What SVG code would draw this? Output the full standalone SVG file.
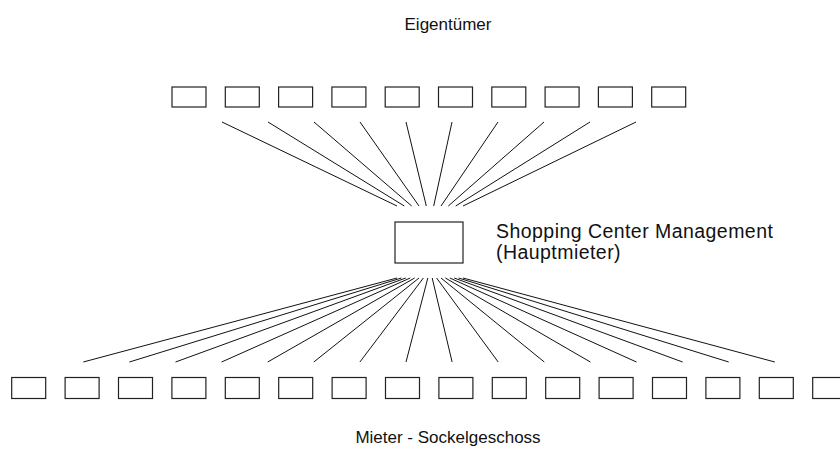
<svg xmlns="http://www.w3.org/2000/svg" width="840" height="460" viewBox="0 0 840 460">
  <style>
    .box { fill: #ffffff; stroke: #222222; stroke-width: 1.2; }
    .link { stroke: #111111; stroke-width: 1; fill: none; }
    .label { font-family: "Liberation Sans", Arial, sans-serif; font-size: 17px; fill: #111111; }
    .side { font-size: 19.5px; letter-spacing: 0.45px; }
  </style>
  <rect width="840" height="460" fill="#ffffff"/>

  <!-- owners row -->
  <g id="owners">
    <rect class="box" x="172" y="87" width="34" height="20"/>
    <rect class="box" x="225.3" y="87" width="34" height="20"/>
    <rect class="box" x="278.6" y="87" width="34" height="20"/>
    <rect class="box" x="331.9" y="87" width="34" height="20"/>
    <rect class="box" x="385.2" y="87" width="34" height="20"/>
    <rect class="box" x="438.5" y="87" width="34" height="20"/>
    <rect class="box" x="491.8" y="87" width="34" height="20"/>
    <rect class="box" x="545.1" y="87" width="34" height="20"/>
    <rect class="box" x="598.4" y="87" width="34" height="20"/>
    <rect class="box" x="651.7" y="87" width="34" height="20"/>
  </g>
  <g id="owners-label">
    <text class="label" x="448" y="30" text-anchor="middle">Eigentümer</text>
  </g>

  <!-- center management -->
  <g id="management">
    <rect class="box" x="395" y="222" width="68" height="41"/>
    <text class="label side" x="496" y="238">Shopping Center Management</text>
    <text class="label side" x="496" y="259">(Hauptmieter)</text>
  </g>

  <!-- tenants row -->
  <g id="tenants">
    <rect class="box" x="11.7" y="377.5" width="34" height="21"/>
    <rect class="box" x="65.1" y="377.5" width="34" height="21"/>
    <rect class="box" x="118.5" y="377.5" width="34" height="21"/>
    <rect class="box" x="171.9" y="377.5" width="34" height="21"/>
    <rect class="box" x="225.3" y="377.5" width="34" height="21"/>
    <rect class="box" x="278.7" y="377.5" width="34" height="21"/>
    <rect class="box" x="332.1" y="377.5" width="34" height="21"/>
    <rect class="box" x="385.5" y="377.5" width="34" height="21"/>
    <rect class="box" x="438.9" y="377.5" width="34" height="21"/>
    <rect class="box" x="492.3" y="377.5" width="34" height="21"/>
    <rect class="box" x="545.7" y="377.5" width="34" height="21"/>
    <rect class="box" x="599.1" y="377.5" width="34" height="21"/>
    <rect class="box" x="652.5" y="377.5" width="34" height="21"/>
    <rect class="box" x="705.9" y="377.5" width="34" height="21"/>
    <rect class="box" x="759.3" y="377.5" width="34" height="21"/>
    <rect class="box" x="812.7" y="377.5" width="34" height="21"/>
  </g>
  <g id="tenants-label">
    <text class="label" x="448" y="443" text-anchor="middle">Mieter - Sockelgeschoss</text>
  </g>

  <!-- connectors -->
  <g id="connectors">
    <!-- owners to management -->
    <line class="link" x1="222" y1="122" x2="397" y2="206"/>
    <line class="link" x1="268" y1="122" x2="404.3" y2="206"/>
    <line class="link" x1="314" y1="122" x2="411.7" y2="206"/>
    <line class="link" x1="360" y1="122" x2="419" y2="206"/>
    <line class="link" x1="406" y1="122" x2="426.3" y2="206"/>
    <line class="link" x1="452" y1="122" x2="433.7" y2="206"/>
    <line class="link" x1="498" y1="122" x2="441" y2="206"/>
    <line class="link" x1="544" y1="122" x2="448.3" y2="206"/>
    <line class="link" x1="590" y1="122" x2="455.7" y2="206"/>
    <line class="link" x1="636" y1="122" x2="463" y2="206"/>
    <!-- management to tenants -->
    <line class="link" x1="397" y1="278" x2="83.3" y2="362"/>
    <line class="link" x1="401.4" y1="278" x2="129.4" y2="362"/>
    <line class="link" x1="405.8" y1="278" x2="175.5" y2="362"/>
    <line class="link" x1="410.2" y1="278" x2="221.6" y2="362"/>
    <line class="link" x1="414.6" y1="278" x2="267.7" y2="362"/>
    <line class="link" x1="419" y1="278" x2="313.8" y2="362"/>
    <line class="link" x1="423.4" y1="278" x2="359.9" y2="362"/>
    <line class="link" x1="427.8" y1="278" x2="406" y2="362"/>
    <line class="link" x1="432.2" y1="278" x2="452.1" y2="362"/>
    <line class="link" x1="436.6" y1="278" x2="498.2" y2="362"/>
    <line class="link" x1="441" y1="278" x2="544.3" y2="362"/>
    <line class="link" x1="445.4" y1="278" x2="590.4" y2="362"/>
    <line class="link" x1="449.8" y1="278" x2="636.5" y2="362"/>
    <line class="link" x1="454.2" y1="278" x2="682.6" y2="362"/>
    <line class="link" x1="458.6" y1="278" x2="728.7" y2="362"/>
    <line class="link" x1="463" y1="278" x2="774.8" y2="362"/>
  </g>
</svg>
